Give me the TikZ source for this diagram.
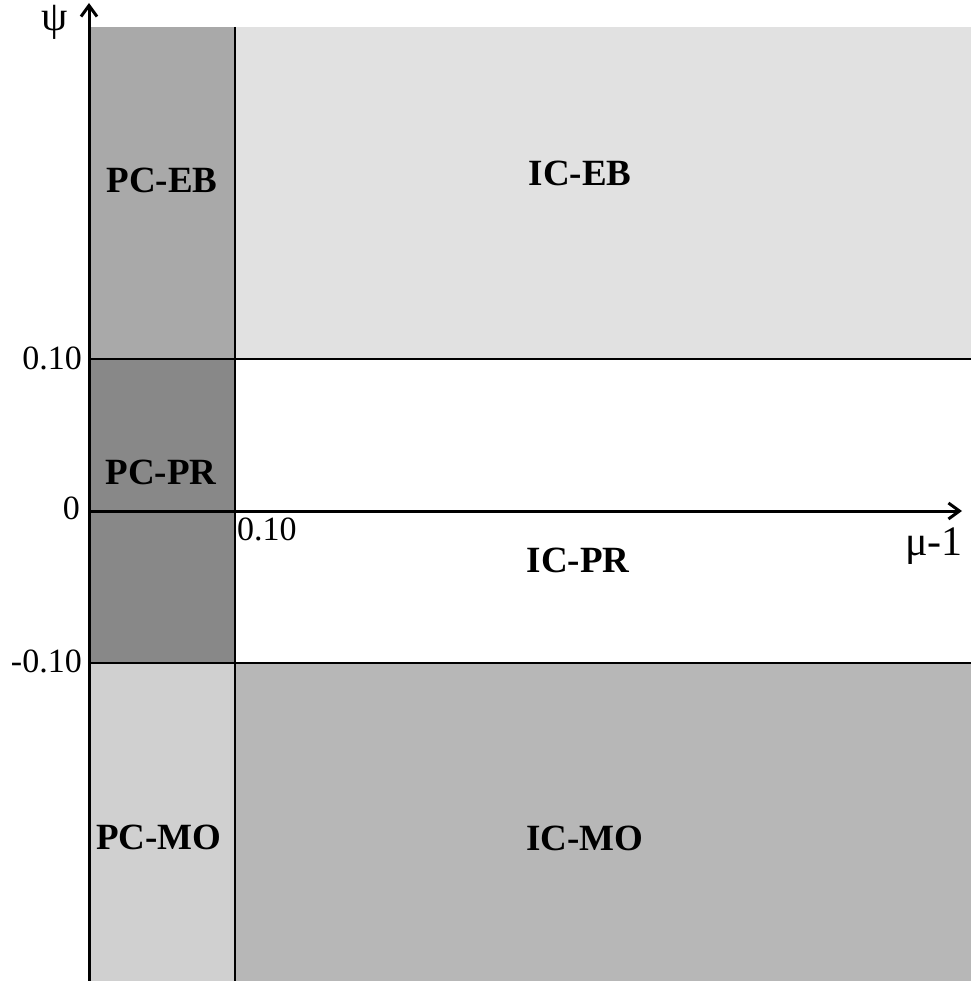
\documentclass[tikz,border=0pt]{standalone}
\usepackage{fontspec}
\setmainfont{Liberation Serif}
\usetikzlibrary{arrows.meta}
\definecolor{pcebgray}{HTML}{A9A9A9}
\definecolor{icebgray}{HTML}{E1E1E1}
\definecolor{pcprgray}{HTML}{888888}
\definecolor{pcmogray}{HTML}{D0D0D0}
\definecolor{icmogray}{HTML}{B7B7B7}
\begin{document}
\begin{tikzpicture}[x=1pt, y=-1pt,
  region/.style={font=\fontsize{37}{40}\selectfont\bfseries, inner sep=0pt},
  ticklabel/.style={font=\fontsize{34}{36}\selectfont, inner sep=0pt},
  axislabel/.style={font=\fontsize{42}{44}\selectfont, inner sep=0pt},
  axis/.style={line width=3pt, -{Straight Barb[length=11pt,width=16pt]}},
  border/.style={line width=2.5pt}]
  \useasboundingbox (0,0) rectangle (971,981);

  % Define points
  \coordinate (ybot) at (89,981);
  \coordinate (ytop) at (89,3);
  \coordinate (xleft) at (89,511);
  \coordinate (xright) at (962,511);
  \coordinate (vtop) at (235,27);
  \coordinate (vbot) at (235,981);
  \coordinate (upl) at (89,359);
  \coordinate (upr) at (971,359);
  \coordinate (lowl) at (89,663);
  \coordinate (lowr) at (971,663);

  % Fill regions
  \fill[pcebgray] (89,27) rectangle (235,359);
  \fill[icebgray] (235,27) rectangle (971,359);
  \fill[pcprgray] (89,359) rectangle (235,663);
  \fill[pcmogray] (89,663) rectangle (235,981);
  \fill[icmogray] (235,663) rectangle (971,981);

  % Draw borders
  \draw[border] (vtop) -- (vbot);
  \draw[border] (upl) -- (upr);
  \draw[border] (lowl) -- (lowr);

  % Draw axes
  \draw[axis] (ybot) -- (ytop);
  \draw[axis] (xleft) -- (xright);

  % Add region labels
  \node[region] (pceb) at (162,180) {PC-EB};
  \node[region] (iceb) at (580,173) {IC-EB};
  \node[region] (pcpr) at (161,472) {PC-PR};
  \node[region] (icpr) at (578,560) {IC-PR};
  \node[region] (pcmo) at (159,837) {PC-MO};
  \node[region] (icmo) at (585,838) {IC-MO};

  % Add axis labels
  \node[axislabel, anchor=north] (psi) at (55,5) {ψ};
  \node[axislabel, anchor=north east] (mu) at (963,528) {μ-1};
  \node[ticklabel, anchor=east] (yup) at (82,358) {0.10};
  \node[ticklabel, anchor=east] (yzero) at (80,508) {0};
  \node[ticklabel, anchor=east] (ylow) at (82,661) {-0.10};
  \node[ticklabel, anchor=north west] (xtick) at (237,518) {0.10};
\end{tikzpicture}
\end{document}
